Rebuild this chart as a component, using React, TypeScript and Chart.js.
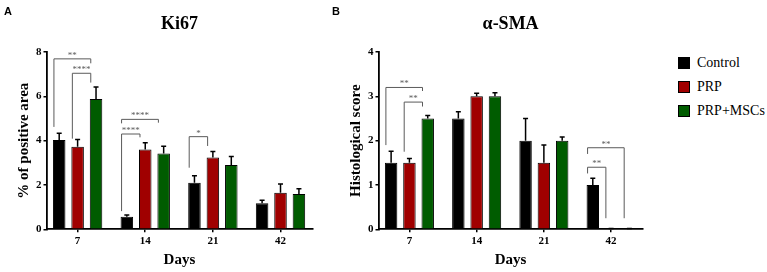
import React, { useEffect, useRef } from 'react';
import { Chart, registerables } from 'chart.js';

Chart.register(...registerables);

// ---------- data ----------
const days = ['7', '14', '21', '42'];
const seriesNames = ['Control', 'PRP', 'PRP+MSCs'];
const seriesColors = ['#000000', '#a00000', '#005c00'];

// Panel A: Ki67 (% of positive area)
const ki67Control = [4.03, 0.57, 2.1, 1.17];
const ki67PRP = [3.72, 3.6, 3.24, 1.65];
const ki67MSC = [5.88, 3.42, 2.9, 1.59];
const ki67ControlErr = [0.3, 0.08, 0.32, 0.14];
const ki67PRPErr = [0.33, 0.3, 0.27, 0.39];
const ki67MSCErr = [0.54, 0.33, 0.38, 0.24];
const ki67Ticks = [0, 2, 4, 6, 8];
// brackets: day index, from series, to series, line value, left leg bottom, right leg bottom, label
const ki67Brackets = [
  { day: 0, from: 0, to: 2, y: 7.69, lb: 4.62, rb: 7.49, label: '**' },
  { day: 0, from: 1, to: 2, y: 7.04, lb: 4.09, rb: 6.62, label: '****' },
  { day: 1, from: 0, to: 2, y: 4.96, lb: 4.78, rb: 4.81, label: '****' },
  { day: 1, from: 0, to: 1, y: 4.3, lb: 0.82, rb: 4.15, label: '****' },
  { day: 2, from: 0, to: 1, y: 4.18, lb: 2.78, rb: 3.76, label: '*' },
];

// Panel B: alpha-SMA (histological score)
const smaControl = [1.5, 2.5, 2.0, 1.0];
const smaPRP = [1.5, 3.0, 1.5, 0];
const smaMSC = [2.5, 3.0, 2.0, 0];
const smaControlErr = [0.26, 0.15, 0.5, 0.15];
const smaPRPErr = [0.1, 0.07, 0.4, 0.02];
const smaMSCErr = [0.07, 0.08, 0.08, 0.02];
const smaTicks = [0, 1, 2, 3, 4];
const smaBrackets = [
  { day: 0, from: 0, to: 2, y: 3.2, lb: 1.9, rb: 3.12, label: '**' },
  { day: 0, from: 1, to: 2, y: 2.87, lb: 1.75, rb: 2.77, label: '**' },
  { day: 3, from: 0, to: 2, y: 1.84, lb: 1.7, rb: 0.25, label: '**' },
  { day: 3, from: 0, to: 1, y: 1.4, lb: 1.26, rb: 0.25, label: '**' },
];

const SERIF = '"Liberation Serif", "Times New Roman", serif';

type Bracket = { day: number; from: number; to: number; y: number; lb: number; rb: number; label: string };

const overlayPlugin = {
  id: 'errAndBrackets',
  afterDatasetsDraw(chart: any) {
    const ctx = chart.ctx;
    const yScale = chart.scales.y;
    const errs: number[][] = chart.options.plugins.errAndBrackets.errors;
    const brackets: Bracket[] = chart.options.plugins.errAndBrackets.brackets;
    ctx.save();
    // error bars (upper only)
    ctx.strokeStyle = '#000';
    ctx.lineWidth = 1.5;
    chart.data.datasets.forEach((ds: any, si: number) => {
      const meta = chart.getDatasetMeta(si);
      meta.data.forEach((bar: any, i: number) => {
        const v = ds.data[i].y;
        const e = errs[si][i];
        const y0 = yScale.getPixelForValue(v);
        const y1 = yScale.getPixelForValue(v + e);
        ctx.beginPath();
        ctx.moveTo(bar.x, y0);
        ctx.lineTo(bar.x, y1);
        ctx.moveTo(bar.x - 2.5, y1);
        ctx.lineTo(bar.x + 2.5, y1);
        ctx.stroke();
      });
    });
    // significance brackets
    ctx.strokeStyle = '#5a5a5a';
    ctx.lineWidth = 1;
    ctx.fillStyle = '#5a5a5a';
    ctx.font = `9px ${SERIF}`;
    ctx.textAlign = 'center';
    ctx.textBaseline = 'alphabetic';
    brackets.forEach((b) => {
      const barL = chart.getDatasetMeta(b.from).data[b.day];
      const barR = chart.getDatasetMeta(b.to).data[b.day];
      const xl = barL.x - barL.width / 2 + 1;
      const xr = barR.x - barR.width / 2 + 1;
      const yl = yScale.getPixelForValue(b.y);
      ctx.beginPath();
      ctx.moveTo(xl, yScale.getPixelForValue(b.lb));
      ctx.lineTo(xl, yl);
      ctx.lineTo(xr, yl);
      ctx.lineTo(xr, yScale.getPixelForValue(b.rb));
      ctx.stroke();
      ctx.fillText(b.label, (xl + xr) / 2, yl - 1);
    });
    ctx.restore();
  },
};

type PanelProps = {
  title: string;
  yTitle: string;
  series: number[][];
  errors: number[][];
  brackets: Bracket[];
  yMax: number;
  yTicks: number[];
  left: number;
  yAxisWidth: number;
  yTitlePad: number;
  xMin: number;
  xMax: number;
  padRight: number;
};

function Panel(p: PanelProps) {
  const ref = useRef<HTMLCanvasElement>(null);
  useEffect(() => {
    if (!ref.current) return;
    const tickFont = { family: SERIF, size: 11, weight: 'bold' as const };
    const axisTitleFont = { family: SERIF, size: 15, weight: 'bold' as const };
    const chart = new Chart(ref.current, {
      type: 'bar',
      data: {
        datasets: p.series.map((vals, si) => ({
          label: seriesNames[si],
          data: vals.map((v, i) => ({ x: i, y: v })),
          backgroundColor: seriesColors[si],
          borderColor: '#000',
          borderWidth: 1,
          categoryPercentage: 0.817,
          barPercentage: 0.68,
        })),
      } as any,
      options: {
        animation: false,
        responsive: false,
        devicePixelRatio: 1,
        layout: { padding: { left: 0, right: p.padRight, top: 0, bottom: 0 } },
        plugins: {
          legend: { display: false },
          tooltip: { enabled: false },
          title: {
            display: true,
            text: p.title,
            fullSize: false,
            color: '#000',
            font: { family: SERIF, size: 18, weight: 'bold' },
            padding: { top: 14, bottom: 16.4 },
          },
          errAndBrackets: { errors: p.errors, brackets: p.brackets },
        } as any,
        scales: {
          x: {
            type: 'linear',
            offset: false,
            min: p.xMin,
            max: p.xMax,
            afterBuildTicks: (s: any) => {
              s.ticks = days.map((_, i) => ({ value: i }));
            },
            afterFit: (s: any) => {
              s.height = 42.7;
            },
            ticks: {
              callback: (v: any) => days[v] ?? '',
              color: '#000',
              font: tickFont,
              padding: 2,
              maxRotation: 0,
            },
            grid: { offset: false, drawOnChartArea: false, drawTicks: true, tickLength: 3, color: '#000', lineWidth: 1.5 },
            border: { color: '#000', width: 1.8 },
            title: {
              display: true,
              text: 'Days',
              color: '#000',
              font: axisTitleFont,
              padding: { top: 0, bottom: 3 },
            },
          },
          y: {
            min: 0,
            max: p.yMax,
            afterBuildTicks: (s: any) => {
              s.ticks = p.yTicks.map((v) => ({ value: v }));
            },
            afterFit: (s: any) => {
              s.width = p.yAxisWidth;
            },
            ticks: { color: '#000', font: tickFont, padding: 2 },
            grid: { drawOnChartArea: false, drawTicks: true, tickLength: 3, color: '#000', lineWidth: 1.5 },
            border: { color: '#000', width: 1.8 },
            title: {
              display: true,
              text: p.yTitle,
              color: '#000',
              font: axisTitleFont,
              padding: { top: p.yTitlePad, bottom: 0 },
            },
          },
        },
      } as any,
      plugins: [overlayPlugin],
    });
    return () => chart.destroy();
  }, []);
  return (
    <canvas
      ref={ref}
      width={330}
      height={272}
      style={{ position: 'absolute', left: p.left, top: 0, width: 330, height: 272 }}
    />
  );
}

export default function App() {
  const legendRows = [62.5, 86.5, 110.5];
  return (
    <div style={{ position: 'fixed', left: 0, top: 0, width: 767, height: 272, background: '#fff', overflow: 'hidden' }}>
      <Panel
        title="Ki67"
        yTitle="% of positive area"
        series={[ki67Control, ki67PRP, ki67MSC]}
        errors={[ki67ControlErr, ki67PRPErr, ki67MSCErr]}
        brackets={ki67Brackets}
        yMax={8}
        yTicks={ki67Ticks}
        left={0}
        yAxisWidth={46.5}
        yTitlePad={15}
        xMin={-0.46}
        xMax={3.47}
        padRight={17.7}
      />
      <Panel
        title="α-SMA"
        yTitle="Histological score"
        series={[smaControl, smaPRP, smaMSC]}
        errors={[smaControlErr, smaPRPErr, smaMSCErr]}
        brackets={smaBrackets}
        yMax={4}
        yTicks={smaTicks}
        left={330}
        yAxisWidth={48.5}
        yTitlePad={17}
        xMin={-0.46}
        xMax={3.47}
        padRight={17.3}
      />
      <div style={{ position: 'absolute', left: 4, top: 6, font: 'bold 11px "Liberation Sans", Arial, sans-serif', lineHeight: '11px', color: '#000' }}>A</div>
      <div style={{ position: 'absolute', left: 332, top: 6, font: 'bold 11px "Liberation Sans", Arial, sans-serif', lineHeight: '11px', color: '#000' }}>B</div>
      {seriesNames.map((name, i) => (
        <div
          key={name}
          style={{
            position: 'absolute',
            left: 677.5,
            top: legendRows[i] - 8,
            height: 16,
            display: 'flex',
            alignItems: 'center',
            font: `14px ${SERIF}`,
            color: '#000',
            whiteSpace: 'nowrap',
          }}
        >
          <span
            style={{
              display: 'inline-block',
              width: 10,
              height: 10,
              background: seriesColors[i],
              border: '1px solid #000',
              marginRight: 7.5,
            }}
          />
          <span>{name}</span>
        </div>
      ))}
    </div>
  );
}
